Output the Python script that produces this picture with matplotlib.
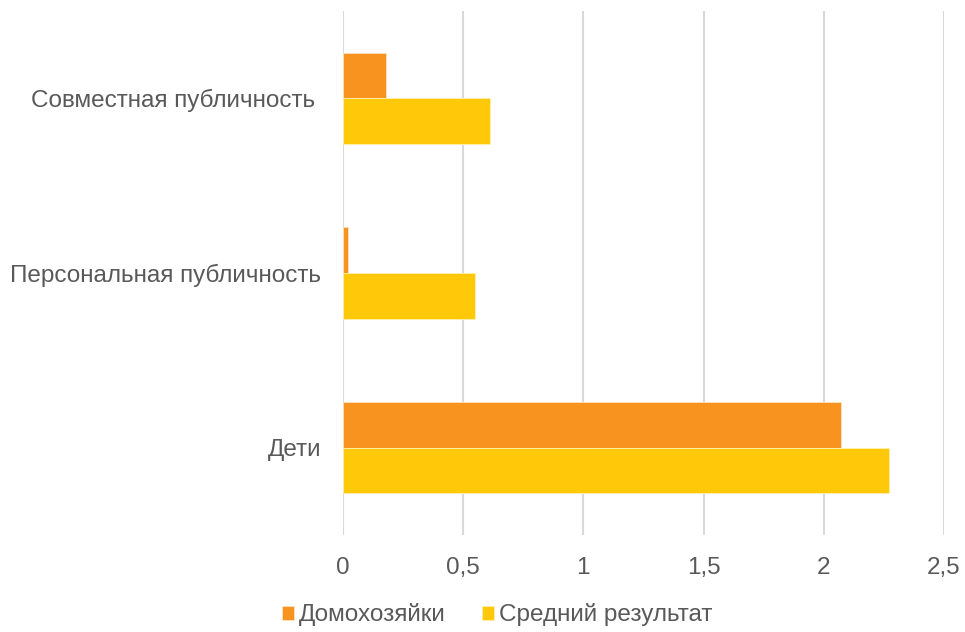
import matplotlib.pyplot as plt
import numpy as np

plt.rcParams['font.family'] = ['Liberation Sans', 'DejaVu Sans']

categories = ['Дети', 'Персональная публичность', 'Совместная публичность ']
housewives = [2.07, 0.02, 0.18]
average = [2.27, 0.55, 0.61]
series_names = ['Домохозяйки', 'Средний результат']
xticks = [0, 0.5, 1, 1.5, 2, 2.5]
xtick_labels = ['0', '0,5', '1', '1,5', '2', '2,5']

text_color = '#595959'
grid_color = '#D9D9D9'

fig = plt.figure(figsize=(9.65, 6.32), dpi=100)
ax = fig.add_axes([0.3554, 0.1535, 0.6228, 0.8291])

y = np.arange(len(categories))
h = 0.262
ax.barh(y + h / 2, housewives, height=h, color='#F7931E', edgecolor='#FCE3C0',
        linewidth=0.6, label=series_names[0], zorder=3)
ax.barh(y - h / 2, average, height=h, color='#FFC90A', edgecolor='#FFF0B0',
        linewidth=0.6, label=series_names[1], zorder=3)

ax.set_xlim(0, 2.5)
ax.set_ylim(-0.5, 2.5)
ax.set_xticks(xticks)
ax.set_xticklabels(xtick_labels)
ax.set_yticks(y)
ax.set_yticklabels(categories)
ax.tick_params(axis='both', length=0, labelsize=17.5, colors=text_color)
ax.tick_params(axis='x', pad=16)
ax.tick_params(axis='y', pad=15.5)
ax.grid(axis='x', color=grid_color, linewidth=1.5, zorder=0)
for s in ax.spines.values():
    s.set_visible(False)

leg = fig.legend(loc='center', bbox_to_anchor=(0.515, 0.027), ncol=2, frameon=False,
                 fontsize=17.5, handlelength=0.5, handleheight=0.5,
                 handletextpad=0.2, columnspacing=1.5)
for t in leg.get_texts():
    t.set_color(text_color)

fig.savefig('out.png', dpi=100)
